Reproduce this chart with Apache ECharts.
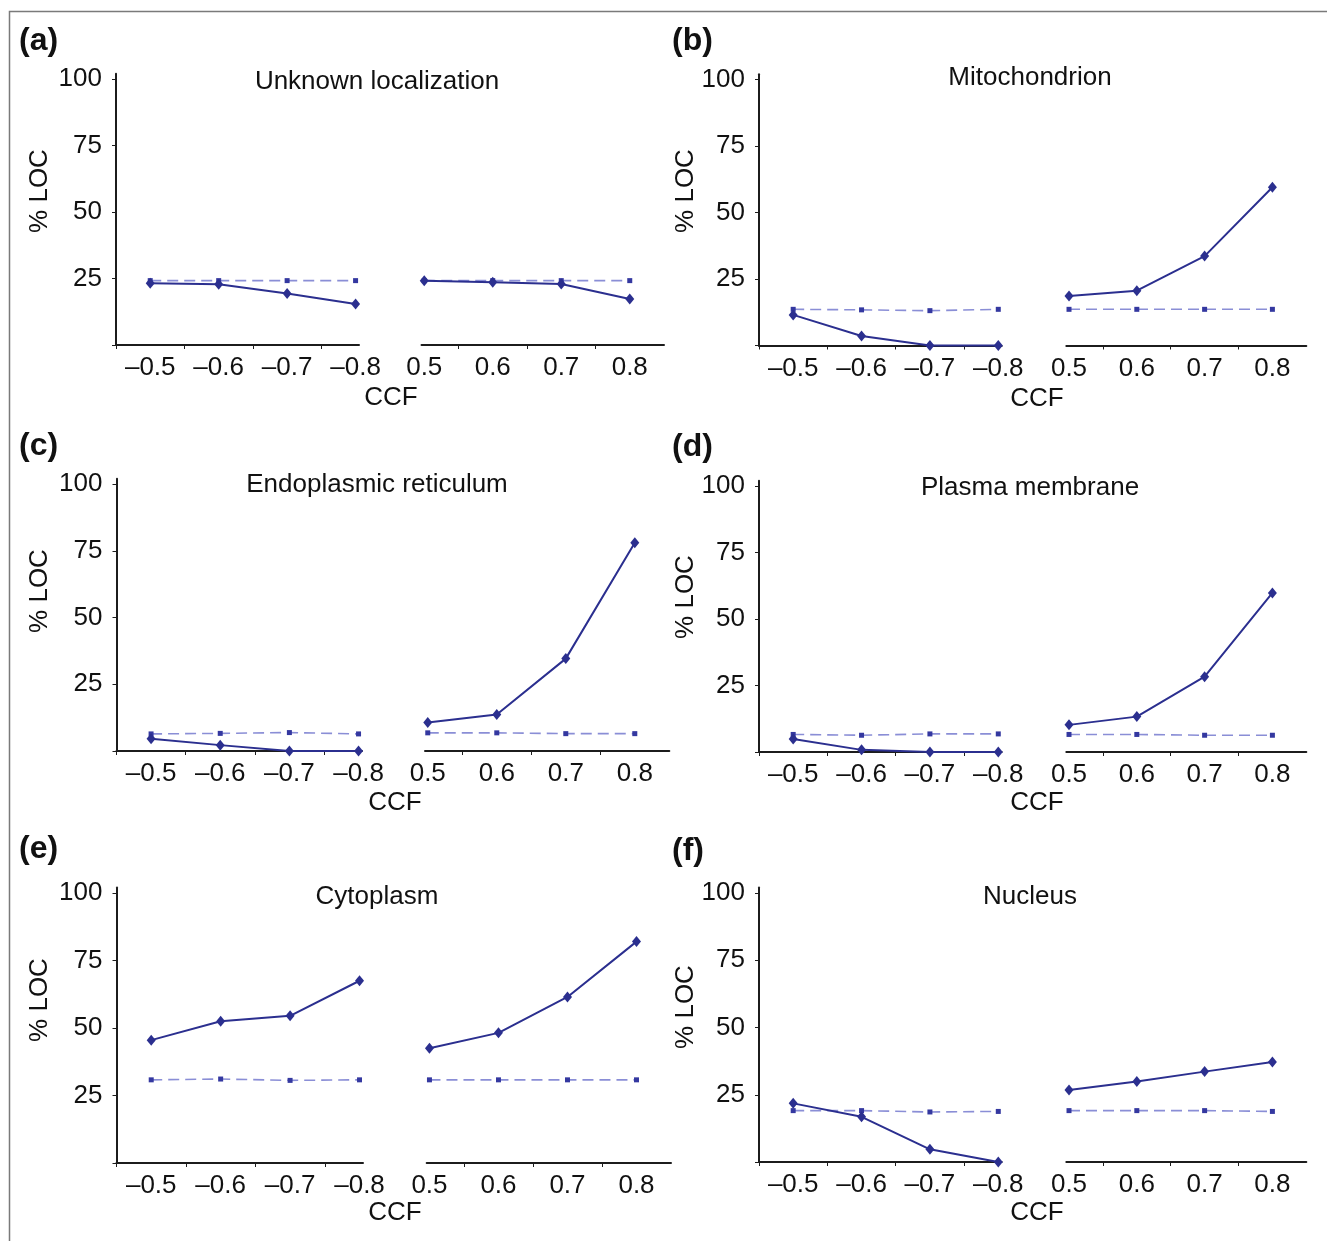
<!DOCTYPE html>
<html><head><meta charset="utf-8">
<script src="https://cdn.jsdelivr.net/npm/echarts@6/dist/echarts.min.js"></script>
<style>html,body{margin:0;padding:0;background:#fff}#c{width:1327px;height:1241px}</style>
</head><body><div id="c"></div>
<script>
// ---- data ----
const ccfNeg = [-0.5, -0.6, -0.7, -0.8];
const ccfPos = [0.5, 0.6, 0.7, 0.8];
const negTickLabels = ['\u20130.5', '\u20130.6', '\u20130.7', '\u20130.8'];
const posTickLabels = ['0.5', '0.6', '0.7', '0.8'];
const yTickValues = [25, 50, 75, 100];
const panelLetters = ['(a)', '(b)', '(c)', '(d)', '(e)', '(f)'];
const panelTitles = ['Unknown localization', 'Mitochondrion', 'Endoplasmic reticulum', 'Plasma membrane', 'Cytoplasm', 'Nucleus'];
const yAxisName = '% LOC';
const xAxisName = 'CCF';

// observed (solid) and random expectation (dashed), % LOC
const unknownNeg = [23.2, 22.8, 19.4, 15.4];
const unknownNegRandom = [24.2, 24.2, 24.2, 24.2];
const unknownPos = [24.2, 23.6, 22.9, 17.3];
const unknownPosRandom = [24.2, 24.2, 24.2, 24.2];

const mitoNeg = [11.5, 3.6, 0, 0];
const mitoNegRandom = [13.6, 13.4, 13.1, 13.6];
const mitoPos = [18.6, 20.6, 33.6, 59.5];
const mitoPosRandom = [13.6, 13.6, 13.6, 13.6];

const erNeg = [4.6, 2.2, 0, 0];
const erNegRandom = [6.4, 6.6, 6.9, 6.4];
const erPos = [10.7, 13.7, 34.6, 78];
const erPosRandom = [6.8, 6.8, 6.5, 6.5];

const pmNeg = [4.9, 0.8, 0, 0];
const pmNegRandom = [6.6, 6.3, 6.8, 6.8];
const pmPos = [10.2, 13.3, 28.3, 59.8];
const pmPosRandom = [6.6, 6.6, 6.3, 6.3];

const cytoNeg = [45.5, 52.5, 54.5, 67.5];
const cytoNegRandom = [30.8, 31.1, 30.6, 30.8];
const cytoPos = [42.5, 48.2, 61.5, 82];
const cytoPosRandom = [30.8, 30.8, 30.8, 30.8];

const nucNeg = [21.8, 16.8, 4.7, 0];
const nucNegRandom = [19.1, 19.1, 18.6, 18.8];
const nucPos = [26.8, 29.9, 33.6, 37.2];
const nucPosRandom = [19.1, 19.1, 19.1, 18.8];

const panelData = [
  [unknownNeg, unknownNegRandom, unknownPos, unknownPosRandom],
  [mitoNeg, mitoNegRandom, mitoPos, mitoPosRandom],
  [erNeg, erNegRandom, erPos, erPosRandom],
  [pmNeg, pmNegRandom, pmPos, pmPosRandom],
  [cytoNeg, cytoNegRandom, cytoPos, cytoPosRandom],
  [nucNeg, nucNegRandom, nucPos, nucPosRandom]
];

// ---- layout (pixels) ----
const layouts = [
  {yx: 116,   le: 359,    rs: 421.5,  re: 664,    y0: 345,   y100: 79,   tx: 377,  ty: 82,   cx: 391,  cy: 398,  lx: 40,  ly: 191,  ax: 19, ay: 41},
  {yx: 759,   le: 1001.7, rs: 1066.3, re: 1306.3, y0: 345.5, y100: 79.5, tx: 1030, ty: 78,   cx: 1037, cy: 399,  lx: 686, ly: 191,  ax: 672, ay: 41},
  {yx: 116.5, le: 362,    rs: 425,    re: 669.3,  y0: 751,   y100: 484,  tx: 377,  ty: 485,  cx: 395,  cy: 803,  lx: 40,  ly: 591,  ax: 19, ay: 446},
  {yx: 759,   le: 1001.7, rs: 1066.3, re: 1306.3, y0: 752,   y100: 486,  tx: 1030, ty: 488,  cx: 1037, cy: 803,  lx: 686, ly: 597,  ax: 672, ay: 447},
  {yx: 116.5, le: 363,    rs: 426.7,  re: 671,    y0: 1163,  y100: 893,  tx: 377,  ty: 897,  cx: 395,  cy: 1213, lx: 40,  ly: 1000, ax: 19, ay: 849},
  {yx: 759,   le: 1001.7, rs: 1066.3, re: 1306.3, y0: 1162,  y100: 893,  tx: 1030, ty: 897,  cx: 1037, cy: 1213, lx: 686, ly: 1007, ax: 672, ay: 851}
];

const FONT = '"Liberation Sans", Arial, Helvetica, sans-serif';
const FS = 26;
const YMAX = 102;
const NEG_RANGE = [-0.805, -0.45];
const POS_RANGE = [0.496, 0.85];
const SOLID = '#2b2f8f';
const DASH_LINE = '#8a8ed6';
const DASH_MARK = '#3438a0';
const AXIS = '#1c1c1c';

function fmt(list, labels) {
  return function (v) {
    for (let i = 0; i < list.length; i++) if (Math.abs(list[i] - v) < 1e-6) return labels[i];
    return '';
  };
}

const grids = [], xAxes = [], yAxes = [], series = [], graphics = [];

layouts.forEach((L, p) => {
  const ppu = (L.y0 - L.y100) / 100;
  const top = L.y0 - ppu * YMAX;
  const h = ppu * YMAX;
  const parts = [
    {left: L.yx, width: L.le - L.yx, range: NEG_RANGE, inverse: true, cats: ccfNeg, labels: negTickLabels, showY: true, obs: panelData[p][0], rnd: panelData[p][1]},
    {left: L.rs, width: L.re - L.rs, range: POS_RANGE, inverse: false, cats: ccfPos, labels: posTickLabels, showY: false, obs: panelData[p][2], rnd: panelData[p][3]}
  ];
  parts.forEach(part => {
    const gi = grids.length;
    grids.push({left: part.left, top: top, width: part.width, height: h, containLabel: false, outerBoundsMode: 'none'});
    xAxes.push({
      type: 'value', gridIndex: gi, min: part.range[0], max: part.range[1], inverse: part.inverse,
      splitLine: {show: false},
      axisLine: {show: true, onZero: false, lineStyle: {color: AXIS, width: 2}},
      axisTick: {show: true, length: 4, inside: false, lineStyle: {color: AXIS, width: 1}, customValues: part.cats.map(v => v + 0.05)},
      axisLabel: {show: true, margin: 10, fontSize: FS, fontFamily: FONT, color: '#111', customValues: part.cats, formatter: fmt(part.cats, part.labels), hideOverlap: false}
    });
    yAxes.push({
      type: 'value', gridIndex: gi, min: 0, max: YMAX, show: part.showY,
      splitLine: {show: false},
      axisLine: {show: part.showY, lineStyle: {color: AXIS, width: 2}},
      axisTick: {show: part.showY, length: 4, lineStyle: {color: AXIS, width: 1}, customValues: [0].concat(yTickValues)},
      axisLabel: {show: part.showY, margin: 14, fontSize: FS, fontFamily: FONT, color: '#111', customValues: yTickValues}
    });
    series.push({
      type: 'line', xAxisIndex: gi, yAxisIndex: gi, clip: false, z: 3,
      data: part.cats.map((c, i) => [c, part.rnd[i]]),
      symbol: 'rect', symbolSize: 5, showSymbol: true,
      lineStyle: {color: DASH_LINE, width: 1.6, type: [11, 6]},
      itemStyle: {color: DASH_MARK}
    });
    series.push({
      type: 'line', xAxisIndex: gi, yAxisIndex: gi, clip: false, z: 4,
      data: part.cats.map((c, i) => [c, part.obs[i]]),
      symbol: 'diamond', symbolSize: [9, 11], showSymbol: true,
      lineStyle: {color: SOLID, width: 2},
      itemStyle: {color: SOLID}
    });
  });

  graphics.push({type: 'text', x: L.ax, y: L.ay, style: {text: panelLetters[p], fontSize: 32, fontWeight: 'bold', fontFamily: FONT, fill: '#111', align: 'left', verticalAlign: 'middle'}});
  graphics.push({type: 'text', x: L.tx, y: L.ty, style: {text: panelTitles[p], fontSize: FS, fontFamily: FONT, fill: '#111', align: 'center', verticalAlign: 'middle'}});
  graphics.push({type: 'text', x: L.cx, y: L.cy, style: {text: xAxisName, fontSize: FS, fontFamily: FONT, fill: '#111', align: 'center', verticalAlign: 'middle'}});
  graphics.push({type: 'text', x: L.lx, y: L.ly, rotation: Math.PI / 2, style: {text: yAxisName, fontSize: FS, fontFamily: FONT, fill: '#111', align: 'center', verticalAlign: 'middle'}});
});

graphics.push({type: 'polyline', shape: {points: [[9.5, 1241], [9.5, 11.5], [1327, 11.5]]}, style: {stroke: '#7a7a7a', lineWidth: 1.5, fill: null}});

const chart = echarts.init(document.getElementById('c'), null, {renderer: 'canvas'});
chart.setOption({
  animation: false,
  backgroundColor: '#ffffff',
  textStyle: {fontFamily: FONT},
  grid: grids,
  xAxis: xAxes,
  yAxis: yAxes,
  series: series,
  graphic: graphics,
  tooltip: {show: false}
});
</script>
</body></html>
